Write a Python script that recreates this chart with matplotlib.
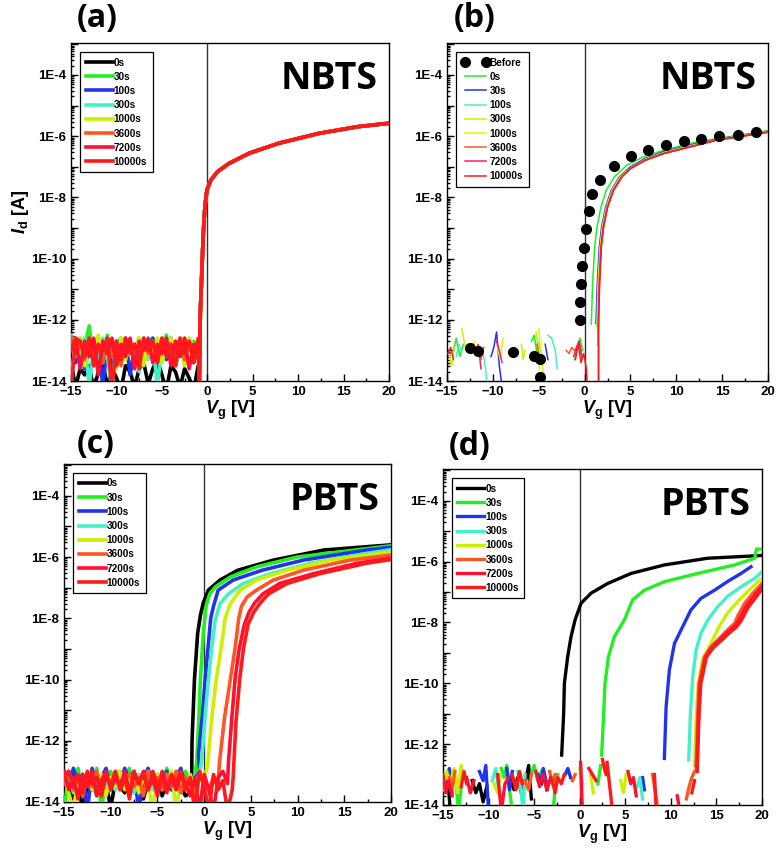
import numpy as np
import matplotlib.pyplot as plt
from matplotlib.ticker import FixedLocator, FuncFormatter, LogLocator, NullFormatter, MultipleLocator

plt.rcParams['font.family'] = 'Liberation Sans'
plt.rcParams['font.weight'] = 'bold'
plt.rcParams['mathtext.fontset'] = 'custom'
plt.rcParams['mathtext.it'] = 'Liberation Sans:bold:italic'
plt.rcParams['mathtext.rm'] = 'Liberation Sans:bold'
plt.rcParams['mathtext.bf'] = 'Liberation Sans:bold'

nan = np.nan

# stress times and colours (same in all panels)
times = ["0s", "30s", "100s", "300s", "1000s", "3600s", "7200s", "10000s"]
colors = ["#000000", "#22ee22", "#2233ee", "#44f0c8", "#ccf000", "#ff5522", "#ff1030", "#ff1a1a"]
colors_b = ["#22ee22", "#2233ee", "#44f0c8", "#ccf000", "#e8f000", "#ff5522", "#ff2050", "#ff1a1a"]

# ---------------- panel (a): NBTS, all curves overlap -----------------
a_noise_vg = [-15, -14.5, -14, -13.5, -13, -12.5, -12, -11.5, -11, -10.5, -10, -9.5, -9, -8.5,
              -8, -7.5, -7, -6.5, -6, -5.5, -5, -4.5, -4, -3.5, -3, -2.5, -2, -1.5, -1.0]
a_noise = {
    "0s": [-13.4, -14.2, -13.6, -13.8, -13.5, -14.3, -13.7, -13.4, -14.2, -13.6, -13.9, -14.3, -13.5, -13.7,
           -14.2, -13.6, -13.4, -14.1, -13.6, -13.3, -13.8, -14.3, -13.5, -13.7, -14.2, -13.6, -13.9, -14.3, -13.5],
    "30s": [-12.5, -13.3, -12.6, -12.9, -12.2, -13.5, -12.7, -13.1, -12.5, -13.4, -12.8, -12.6, -13.2, -12.7,
            -13.0, -12.6, -13.4, -12.8, -12.6, -13.2, -12.9, -12.5, -13.3, -12.7, -13.1, -12.6, -13.0, -12.7, -12.9],
    "100s": [-12.8, -13.4, -12.7, -13.6, -12.9, -13.3, -12.6, -14.2, -12.8, -13.5, -12.7, -13.2, -12.6, -13.8,
             -12.9, -13.4, -12.7, -13.1, -12.6, -13.6, -12.8, -13.3, -12.6, -13.5, -12.9, -13.2, -12.7, -13.4, -12.8],
    "300s": [-13.9, -12.7, -13.3, -12.6, -14.2, -12.8, -13.5, -12.6, -13.2, -14.3, -12.7, -13.4, -12.6, -13.1,
             -12.8, -13.7, -12.6, -13.3, -12.7, -14.2, -12.9, -13.2, -12.6, -13.5, -12.8, -13.3, -12.6, -13.0, -12.8],
    "1000s": [-12.7, -13.2, -12.6, -13.5, -12.8, -13.1, -12.5, -13.4, -12.7, -12.9, -13.6, -12.6, -13.3, -12.8,
              -13.0, -12.6, -13.5, -12.7, -13.1, -12.6, -13.4, -12.9, -12.6, -13.2, -12.7, -13.5, -12.6, -12.9, -12.8],
    "3600s": [-12.6, -13.1, -12.7, -13.3, -12.6, -13.0, -12.8, -13.4, -12.6, -13.2, -12.7, -13.5, -12.6, -13.0,
              -12.8, -13.3, -12.6, -13.1, -12.7, -13.4, -12.6, -13.0, -12.8, -13.2, -12.6, -13.3, -12.7, -13.0, -12.8],
    "7200s": [-13.0, -12.6, -13.6, -12.7, -13.2, -12.6, -13.8, -12.7, -13.1, -12.6, -13.5, -12.8, -13.2, -12.6,
              -13.6, -12.7, -13.0, -12.6, -13.4, -12.8, -13.1, -12.6, -13.5, -12.7, -13.2, -12.6, -13.6, -12.8, -13.0],
    "10000s": [-14.3, -12.6, -12.7, -13.2, -12.6, -13.5, -12.8, -13.0, -12.6, -14.3, -12.7, -13.3, -12.6, -13.1,
               -12.8, -13.6, -12.6, -13.0, -12.7, -13.4, -12.6, -13.2, -12.8, -13.5, -12.6, -13.1, -12.7, -13.4, -12.6],
}
a_on_vg = [-0.88, -0.77, -0.58, -0.44, -0.26, -0.04, 0.4, 1.13, 2.4, 4.6, 7.9, 12.3, 16.6, 20]
a_on_log = [-14.0, -11.79, -10.26, -9.17, -8.3, -7.76, -7.43, -7.16, -6.89, -6.56, -6.23, -5.91, -5.69, -5.58]

# ---------------- panel (b): NBTS, before + thin curves -----------------
before_vg = [-12.47, -11.67, -7.8, -5.56, -4.9, -4.9, -0.55, -0.47, -0.4, -0.29, -0.11, 0.18, 0.44, 0.84,
             1.71, 3.24, 5.05, 6.87, 8.84, 10.8, 12.73, 14.7, 16.7, 18.65]
before_log = [-12.91, -13.02, -13.04, -13.18, -13.27, -13.86, -12.01, -11.41, -10.83, -10.24, -9.64, -9.05, -8.45, -7.9,
              -7.42, -6.96, -6.66, -6.46, -6.28, -6.17, -6.1, -6.0, -5.95, -5.88]
b_on = {
    "0s": ([0.73, 0.87, 1.09, 1.35, 1.78, 2.36, 3.24, 4.6, 6.4, 8.6, 11.5, 14.4, 18.1, 20],
           [-12.14, -10.83, -9.63, -8.97, -8.32, -7.77, -7.33, -6.95, -6.68, -6.46, -6.24, -6.08, -5.91, -5.82]),
    "30s": ([1.24, 1.38, 1.6, 1.85, 2.29, 2.9, 3.8, 5.0, 6.6, 8.6, 11.5, 14.4, 18.1, 20],
            [-12.12, -10.83, -9.63, -8.97, -8.32, -7.77, -7.33, -7.0, -6.73, -6.51, -6.29, -6.1, -5.93, -5.84]),
    "100s": ([1.32, 1.46, 1.68, 1.93, 2.37, 2.98, 3.88, 5.1, 6.7, 8.7, 11.6, 14.5, 18.2, 20],
             [-12.2, -10.83, -9.63, -8.97, -8.32, -7.77, -7.33, -7.02, -6.75, -6.53, -6.31, -6.11, -5.94, -5.85]),
    "300s": ([1.38, 1.5, 1.72, 1.97, 2.41, 3.03, 3.94, 5.1, 6.7, 8.7, 11.6, 14.5, 18.2, 20],
             [-12.3, -10.83, -9.63, -8.97, -8.32, -7.77, -7.33, -7.03, -6.76, -6.54, -6.32, -6.12, -5.95, -5.86]),
    "1000s": ([1.42, 1.54, 1.75, 2.0, 2.44, 3.07, 3.98, 5.0, 6.6, 8.6, 11.5, 14.4, 18.1, 20],
              [-12.4, -10.83, -9.63, -8.97, -8.32, -7.77, -7.33, -7.05, -6.78, -6.56, -6.34, -6.12, -5.95, -5.86]),
    "3600s": ([1.46, 1.58, 1.78, 2.03, 2.47, 3.11, 4.02, 5.0, 6.6, 8.6, 11.5, 14.4, 18.1, 20],
              [-12.8, -10.83, -9.63, -8.97, -8.32, -7.77, -7.33, -7.06, -6.79, -6.57, -6.35, -6.13, -5.96, -5.87]),
    "7200s": ([1.5, 1.5, 1.61, 1.8, 2.05, 2.49, 3.14, 4.05, 5.0, 6.6, 8.6, 11.5, 14.4, 18.1, 20],
              [-14.0, -12.03, -10.83, -9.63, -8.97, -8.32, -7.77, -7.33, -7.06, -6.79, -6.57, -6.35, -6.13, -5.96, -5.87]),
    "10000s": ([1.53, 1.53, 1.64, 1.82, 2.07, 2.51, 3.16, 4.07, 5.0, 6.6, 8.6, 11.5, 14.4, 18.1, 20],
               [-14.0, -12.03, -10.83, -9.63, -8.97, -8.32, -7.77, -7.33, -7.06, -6.79, -6.57, -6.35, -6.13, -5.96, -5.87]),
}
b_noise = {
    "0s": ([-14.3, -14.0, -13.6, -13.2, nan, -5.8, -5.5, -5.2, nan, -1.1, -0.8, -0.5, -0.2],
           [-13.0, -12.6, -13.2, -12.8, nan, -12.7, -12.5, -13.1, nan, -13.3, -12.9, -12.6, -13.0]),
    "30s": ([-10.2, -9.9, -9.6, -9.3, -9.0, nan, -4.3, -4.0, nan, -0.9, -0.6, -0.3],
            [-13.2, -12.9, -12.4, -13.5, -14.2, nan, -12.8, -13.3, nan, -13.0, -12.7, -13.2]),
    "100s": ([-14.0, -13.7, -13.4, nan, -11.1, -10.8, -10.6, nan, -5.2, -4.9, -4.6, nan, -4.0, -3.6, -3.2, -3.0],
             [-13.2, -12.8, -13.1, nan, -13.0, -13.6, -14.2, nan, -12.6, -12.9, -13.2, nan, -12.5, -12.6, -13.0, -13.6]),
    "300s": ([-14.8, -14.5, -14.2, nan, -13.4, -13.2, -13.0, nan, -6.9, -6.7, -6.5, nan, -5.3, -5.1, -4.9],
             [-13.1, -13.5, -12.9, nan, -12.3, -12.6, -12.9, nan, -12.8, -13.3, -13.0, nan, -12.4, -12.8, -13.6]),
    "1000s": ([-12.6, -12.3, -12.0, nan, -9.5, -9.2, -8.9, nan, -5.0, -4.8, -4.6, -4.4],
              [-12.8, -13.1, -12.7, nan, -12.9, -13.3, -12.6, nan, -12.3, -12.9, -13.4, -14.2]),
    "3600s": ([-11.6, -11.3, -11.0, nan, -5.2, -5.0, nan, -2.0, -1.7, -1.4, -1.1],
              [-13.0, -13.3, -12.9, nan, -12.8, -13.1, nan, -13.0, -13.1, -12.9, -13.0]),
    "7200s": ([-12.2, -11.9, -11.6, -11.3, nan, -9.6, -9.3, -9.0, nan, -1.2, -0.9, -0.6, -0.3],
              [-12.8, -13.1, -12.8, -13.6, nan, -12.7, -13.0, -13.4, nan, -13.2, -12.9, -12.7, -13.2]),
    "10000s": ([-14.9, -14.6, -14.3, nan, -1.0, -0.7, -0.4, -0.1, 0.2, 0.3],
               [-13.1, -12.9, -13.3, nan, -13.3, -12.8, -13.4, -13.1, -13.6, -14.2]),
}

# ---------------- panel (c): PBTS -----------------
c_noise_vg = [-15, -14.5, -14, -13.5, -13, -12.5, -12, -11.5, -11, -10.5, -10, -9.5, -9, -8.5, -8, -7.5,
              -7, -6.5, -6, -5.5, -5, -4.5, -4, -3.5, -3, -2.5, -2, -1.5, -1, -0.5, 0, 0.5, 1, 1.5, 2, 2.5, 3]
c_noise = {
    "0s": [-13.2, -13.5, -13.9, -13.3, -14.3, -13.4, -13.6, -13.2, -13.8, -13.4, -14.2, -13.3, -13.5, -13.7,
           -13.2, -13.6, -13.4, -13.9, -13.3, -13.5, -13.2, -13.8, -13.4, -13.6, -13.3, -13.5, -13.8, -13.7],
    "30s": [-14.3, -13.1, -13.6, -12.9, -13.8, -13.2, -13.5, -12.9, -14.2, -13.3, -13.0, -13.6, -13.1, -13.4,
            -12.9, -13.7, -13.2, -13.5, -13.0, -13.6, -13.1, -13.4, -12.9, -13.5, -13.2, -13.7, -13.0, -13.4, -13.1],
    "100s": [-13.0, -13.6, -12.9, -13.4, -13.1, -14.3, -12.9, -13.5, -13.2, -12.9, -13.6, -13.1, -13.4, -12.9,
             -13.3, -13.0, -14.3, -13.2, -12.9, -13.5, -13.1, -13.4, -13.0, -13.6, -13.2, -12.9, -13.5, -13.1, -13.3, -13.0],
    "300s": [-13.3, -13.0, -13.7, -13.2, -13.5, -13.0, -13.4, -13.8, -13.1, -13.5, -13.2, -13.6, -13.0, -13.4,
             -13.2, -13.7, -13.1, -13.3, -13.0, -13.6, -13.2, -13.4, -13.1, -13.5, -13.0, -13.3, -13.6, -13.2, -13.4, -13.1],
    "1000s": [-13.1, -13.7, -14.3, -13.2, -13.5, -13.0, -13.6, -13.3, -13.1, -13.8, -13.2, -13.5, -13.0, -13.6,
              -13.3, -13.1, -13.7, -13.2, -13.4, -14.3, -13.1, -13.6, -13.3, -13.0, -14.3, -13.2, -13.5, -13.1,
              -13.6, -13.3, -13.2],
    "3600s": [-13.4, -13.0, -13.6, -13.2, -13.8, -13.1, -13.5, -13.0, -13.7, -13.2, -13.4, -13.0, -13.6, -13.3,
              -13.1, -13.5, -13.2, -13.8, -13.0, -13.4, -13.2, -13.6, -13.1, -13.5, -13.0, -13.7, -13.2, -13.4,
              -13.8, -14.3, -13.3, -13.6, -13.2, -13.4],
    "7200s": [-13.0, -13.6, -13.2, -13.9, -13.1, -13.5, -13.0, -13.8, -13.3, -13.0, -13.6, -13.2, -13.5, -13.0,
              -13.7, -13.1, -13.4, -13.0, -13.6, -13.2, -13.8, -13.0, -13.5, -13.2, -13.6, -13.1, -13.4, -13.8,
              -13.2, -14.3, -13.1, -13.6, -14.3, -13.2, -13.0, -13.4],
    "10000s": [-13.2, -13.0, -13.5, -13.1, -13.7, -13.0, -13.4, -13.2, -13.8, -13.1, -13.5, -13.0, -13.6, -13.2,
               -13.9, -13.0, -13.4, -13.1, -13.6, -13.0, -13.5, -13.2, -13.7, -13.1, -13.4, -13.0, -13.6, -13.2,
               -14.3, -13.0, -13.5, -14.3, -13.1, -13.6, -13.3, -14.3, -13.6],
}
c_on = {
    "0s": ([-1.35, -1.3, -1.04, -0.7, -0.4, -0.1, 0.45, 1.7, 3.6, 7.4, 12.8, 20],
           [-13.7, -12.0, -10.0, -8.5, -7.9, -7.5, -7.08, -6.75, -6.43, -6.1, -5.77, -5.6]),
    "30s": ([-0.8, -0.6, -0.4, -0.1, 0.2, 0.6, 1.2, 2.8, 5.6, 9.9, 18.9, 20],
            [-12.7, -11.5, -10.0, -8.5, -7.6, -7.2, -6.97, -6.65, -6.32, -6.0, -5.67, -5.63]),
    "100s": ([-0.6, -0.2, 0.1, 0.4, 0.7, 1.0, 1.5, 3.1, 6.2, 10.6, 17.4, 20],
             [-12.45, -11.2, -10.0, -9.0, -8.0, -7.6, -7.08, -6.75, -6.43, -6.1, -5.77, -5.68]),
    "300s": ([-0.25, 0.1, 0.46, 0.8, 1.18, 1.7, 2.6, 4.2, 7.1, 11.4, 17.4, 20],
             [-12.6, -11.2, -10.0, -9.0, -8.06, -7.52, -7.2, -6.86, -6.54, -6.2, -5.88, -5.76]),
    "1000s": ([0.36, 0.8, 1.29, 1.8, 2.25, 2.8, 3.86, 5.6, 8.9, 13.5, 18.9, 20],
              [-12.84, -11.3, -10.0, -9.0, -8.0, -7.52, -7.08, -6.75, -6.43, -6.1, -5.88, -5.84]),
    "3600s": ([1.64, 2.2, 2.8, 3.3, 3.7, 4.0, 4.6, 5.6, 7.4, 10.6, 15.6, 20],
              [-12.7, -11.2, -10.0, -9.0, -8.0, -7.6, -7.3, -7.08, -6.75, -6.43, -6.1, -5.93]),
    "7200s": ([2.6, 2.95, 3.3, 3.75, 4.3, 4.8, 5.4, 6.3, 8.1, 11.7, 16.4, 20],
              [-12.7, -11.3, -10.0, -9.0, -8.2, -7.8, -7.5, -7.2, -6.86, -6.54, -6.2, -6.03]),
    "10000s": ([3.1, 3.4, 3.8, 4.2, 4.7, 5.3, 6.0, 6.9, 8.9, 12.4, 17.4, 20],
               [-13.2, -11.4, -10.0, -9.0, -8.2, -7.8, -7.5, -7.2, -6.86, -6.54, -6.2, -6.08]),
}

# ---------------- panel (d): PBTS -----------------
d_on = {
    "0s": ([-1.98, -1.76, -1.68, -1.32, -0.95, -0.51, 0.15, 1.24, 3.07, 5.63, 9.3, 14.05, 20],
           [-12.36, -10.99, -10.0, -9.13, -8.47, -7.92, -7.37, -7.04, -6.72, -6.39, -6.11, -5.89, -5.8]),
    "30s": ([2.41, 2.63, 2.78, 3.15, 3.8, 4.9, 5.8, 7.1, 9.3, 12.95, 17.0, 19.2, 19.4, 19.9],
            [-12.36, -10.99, -10.0, -9.13, -8.47, -7.92, -7.26, -6.94, -6.66, -6.39, -6.11, -5.89, -5.59, -5.59]),
    "100s": ([9.29, 9.48, 9.84, 10.4, 11.3, 12.2, 13.3, 14.8, 16.2, 17.7, 18.8],
             [-12.47, -10.77, -9.56, -8.69, -8.14, -7.59, -7.21, -6.94, -6.66, -6.39, -6.17]),
    "300s": ([11.96, 12.15, 12.4, 12.77, 13.3, 14.05, 15.15, 16.2, 17.7, 19.2, 20],
             [-12.52, -10.99, -9.78, -8.91, -8.36, -7.92, -7.48, -7.15, -6.83, -6.55, -6.33]),
    "1000s": ([12.6, 12.8, 13.0, 13.5, 14.4, 15.3, 16.2, 17.5, 18.8, 20],
              [-12.7, -11.0, -10.0, -9.2, -8.69, -8.14, -7.7, -7.26, -6.88, -6.55]),
    "3600s": ([12.77, 12.95, 13.1, 13.7, 14.4, 15.5, 16.2, 17.0, 17.3, 18.1, 19.0, 20],
              [-12.74, -10.99, -10.0, -9.13, -8.8, -8.47, -8.25, -8.03, -7.81, -7.37, -7.04, -6.72]),
    "7200s": ([12.85, 13.05, 13.2, 13.8, 14.5, 15.6, 16.3, 17.1, 17.5, 18.3, 19.2, 20],
              [-12.8, -11.0, -10.0, -9.13, -8.82, -8.5, -8.3, -8.1, -7.9, -7.45, -7.1, -6.82]),
    "10000s": ([12.9, 13.1, 13.3, 13.9, 14.6, 15.7, 16.4, 17.2, 17.7, 18.5, 19.4, 20],
               [-12.9, -11.0, -10.0, -9.15, -8.85, -8.55, -8.35, -8.15, -7.95, -7.5, -7.15, -6.9]),
}
d_noise = {
    "0s": ([-14.8, -14.5, -14.2, nan, -11.8, -11.4, -11.0, -10.6, -10.2, nan, -7.6, -7.2, -6.8, -6.4, -6.0, -5.6,
            -5.3, nan, -4.2, -3.9, -3.6],
           [-13.4, -13.0, -14.2, nan, -13.2, -13.6, -13.3, -13.9, -13.4, nan, -13.2, -13.5, -13.1, -13.6, -13.3, -12.7,
            -13.8, nan, -13.3, -13.0, -13.5]),
    "30s": ([-13.6, -13.3, -13.0, nan, -8.6, -8.3, -8.0, -7.7, -7.4, nan, -5.3, -5.0, -4.6, -4.2, nan, -2.9, -2.7,
             -2.4, nan, 2.0, 2.3],
            [-13.2, -14.2, -13.4, nan, -12.8, -13.1, -12.7, -13.5, -14.2, nan, -13.0, -12.7, -13.2, -12.9, nan, -14.2,
             -13.4, -13.0, nan, -13.3, -12.7]),
    "100s": ([-14.6, -14.3, -14.0, nan, -11.0, -10.6, -10.3, -10.0, nan, -8.0, -7.7, -7.4, nan, -4.6, -4.3, -4.0,
              -3.7, nan, -1.6, -1.3, -1.0, nan, 6.9, 7.1],
             [-13.1, -12.8, -13.6, nan, -12.9, -13.2, -12.7, -14.2, nan, -12.8, -13.5, -12.9, nan, -13.0, -13.3, -12.8,
              -13.2, nan, -13.0, -12.8, -13.1, nan, -13.1, -13.5]),
    "300s": ([-9.6, -9.2, -8.9, nan, -6.8, -6.5, -6.2, -6.0, nan, 6.3, 6.6, 6.9],
             [-13.2, -12.8, -13.5, nan, -12.9, -13.4, -14.2, -13.0, nan, -13.4, -13.1, -13.8]),
    "1000s": ([-15.0, -14.6, -14.2, -13.8, -13.4, -13.0, -12.7, nan, -9.4, -9.0, -8.7, nan, 0.0, 0.3, nan, 1.2, 1.5,
               nan, 4.5, 4.8, 5.1],
              [-13.5, -12.9, -13.3, -12.8, -13.6, -12.7, -13.1, nan, -13.3, -13.6, -13.0, nan, -12.8, -13.3, nan, -13.0,
               -13.6, nan, -13.2, -13.6, -13.0]),
    "3600s": ([-14.3, -14.0, -13.7, nan, -6.0, -5.6, -5.3, nan, -3.3, -3.0, -2.7, nan, -0.8, -0.5, nan, 8.0, 8.3,
               8.6, nan, 11.7, 12.0, 12.3, 12.6],
              [-13.1, -13.5, -12.9, nan, -13.2, -13.5, -13.0, nan, -12.9, -13.3, -13.0, nan, -13.2, -13.0, nan, -13.0,
               -13.6, -14.2, nan, -13.8, -13.4, -13.1, -12.9]),
    "7200s": ([-15.0, -14.7, -14.4, -14.0, nan, -12.4, -12.0, -11.6, nan, -9.0, -8.6, -8.2, -7.8, nan, -4.8, -4.4,
               -4.0, -3.6, -3.2, nan, 0.1, 0.3, nan, 1.0, 1.4, 1.8, nan, 5.3, 5.6, 5.9, 6.2, nan, 10.7, 11.0],
              [-13.0, -13.6, -13.2, -13.7, nan, -13.1, -13.6, -13.2, nan, -13.0, -14.2, -13.3, -13.1, nan, -12.9, -13.4,
               -13.0, -13.5, -13.1, nan, -12.6, -14.2, nan, -12.8, -13.0, -13.2, nan, -12.9, -13.3, -13.1, -13.7, nan,
               -13.7, -14.2]),
    "10000s": ([-13.0, -12.7, -12.4, nan, -7.4, -7.0, -6.6, -6.3, nan, -3.0, -2.7, -2.4, -2.0, -1.7, nan, 2.5, 2.7,
                2.9, nan, 3.0, 3.3, 3.6, nan, 8.2, 8.4, nan, 12.3, 12.6],
               [-13.4, -12.9, -13.3, nan, -13.0, -13.5, -12.9, -13.3, nan, -13.2, -13.6, -13.1, -13.3, -13.0, nan, -12.5,
                -12.8, -13.0, nan, -12.6, -13.4, -14.2, nan, -13.0, -14.2, nan, -13.6, -13.2]),
}

y_major = [-14, -13, -12, -11, -10, -9, -8, -7, -6, -5, -4, -3]


def style_axes(ax, tag, ylabel=False):
    ax.set_yscale('log')
    ax.set_xlim(-15, 20)
    ax.set_ylim(1e-14, 1.1e-3)
    ax.axvline(0, color='#333333', lw=1.0, zorder=1)
    ax.xaxis.set_major_locator(MultipleLocator(5))
    ax.xaxis.set_minor_locator(MultipleLocator(2.5))
    ax.yaxis.set_major_locator(FixedLocator([10.0 ** e for e in y_major]))
    ax.yaxis.set_major_formatter(FuncFormatter(
        lambda v, p: "1E%d" % round(np.log10(v)) if round(np.log10(v)) % 2 == 0 and v < 1e-3 else ""))
    ax.yaxis.set_minor_locator(LogLocator(base=10, subs=np.arange(2, 10), numticks=30))
    ax.yaxis.set_minor_formatter(NullFormatter())
    ax.tick_params(which='both', direction='in', top=False, right=False, labelsize=9.5, width=1.0)
    ax.tick_params(which='major', length=5)
    ax.tick_params(which='minor', length=2.5)
    for lab in ax.get_xticklabels() + ax.get_yticklabels():
        lab.set_fontweight('bold')
    for s in ax.spines.values():
        s.set_linewidth(1.0)
    ax.set_xlabel(r'$V_{\rm g}$ [V]', fontsize=13, fontweight='bold', labelpad=1)
    if ylabel:
        ax.set_ylabel(r'$I_{\rm d}$ [A]', fontsize=13, fontweight='bold', labelpad=0)
    ax.text(0.965, 0.95, tag, transform=ax.transAxes, ha='right', va='top',
            fontsize=27, fontweight='bold', family='Open Sans')


def add_legend(ax, **kw):
    leg = ax.legend(loc='upper left', prop={'weight': 'bold', 'size': 7.2, 'family': 'Liberation Sans'},
                    handlelength=2.7, handletextpad=0.1, labelspacing=0.42, borderpad=0.55,
                    borderaxespad=0.9, fancybox=False, framealpha=1, **kw)
    leg.get_frame().set_edgecolor('black')
    leg.get_frame().set_linewidth(0.9)


fig = plt.figure(figsize=(7.78, 8.57), dpi=100)
axa = fig.add_axes([0.0913, 0.5554, 0.4087, 0.3944])
axb = fig.add_axes([0.5746, 0.5554, 0.4126, 0.3944])
axc = fig.add_axes([0.0823, 0.0642, 0.4203, 0.3944])
axd = fig.add_axes([0.5694, 0.0607, 0.4100, 0.3920])

# (a)
for t, c in zip(times, colors):
    vg = a_noise_vg[:len(a_noise[t])] + a_on_vg
    lg = a_noise[t] + a_on_log
    axa.plot(vg, 10.0 ** np.array(lg), color=c, lw=2.6, label=t, zorder=3)
style_axes(axa, 'NBTS', ylabel=True)
add_legend(axa)

# (b)
axb.plot(before_vg, 10.0 ** np.array(before_log), 'o', color='black', ms=7, label='Before', zorder=4)
for t, c in zip(times, colors_b):
    nv, nl = b_noise[t]
    axb.plot(nv, 10.0 ** np.array(nl), color=c, lw=1.1, zorder=3)
    ov, ol = b_on[t]
    axb.plot(ov, 10.0 ** np.array(ol), color=c, lw=1.1, label=t, zorder=3)
style_axes(axb, 'NBTS')
add_legend(axb, numpoints=2)

# (c)
for t, c in zip(times, colors):
    n = len(c_noise[t])
    vg = c_noise_vg[:n] + c_on[t][0]
    lg = c_noise[t] + c_on[t][1]
    axc.plot(vg, 10.0 ** np.array(lg), color=c, lw=2.6, label=t, zorder=3)
style_axes(axc, 'PBTS')
add_legend(axc)

# (d)
for t, c in zip(times, colors):
    nv, nl = d_noise[t]
    axd.plot(nv, 10.0 ** np.array(nl), color=c, lw=2.4, zorder=3)
    ov, ol = d_on[t]
    axd.plot(ov, 10.0 ** np.array(ol), color=c, lw=2.4, label=t, zorder=3)
style_axes(axd, 'PBTS')
add_legend(axd)

# panel letters
for x, y, s in [(97, 18, '(a)'), (475, 18, '(b)'), (96, 444, '(c)'), (470, 447, '(d)')]:
    fig.text(x / 778, 1 - y / 857, s, ha='center', va='center', fontsize=23,
             fontweight='bold', family='Open Sans')

fig.savefig('out.png', dpi=100)
